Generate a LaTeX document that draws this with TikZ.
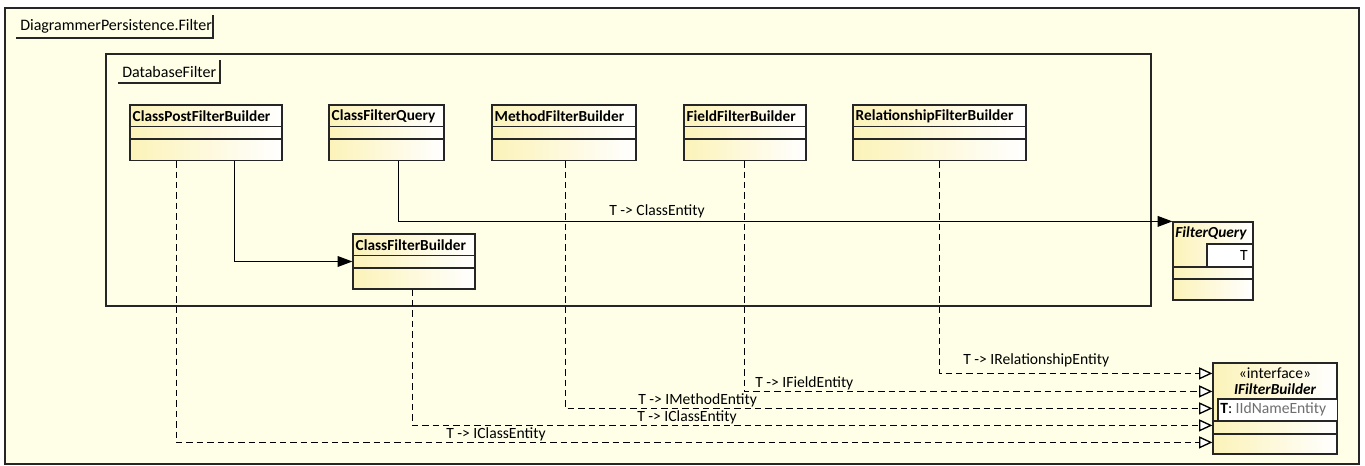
\documentclass[tikz,border=0pt]{standalone}
\usepackage{fontspec}
\setmainfont{Carlito}
\usetikzlibrary{fit,calc,arrows.meta}
\definecolor{bgc}{RGB}{255,255,232}
\definecolor{boxy}{RGB}{252,243,185}
\definecolor{greytxt}{RGB}{110,110,110}
\tikzset{
  classbox/.style={draw=black!85, line width=0.9pt, left color=boxy, right color=white, inner sep=0pt},
  titletxt/.style={font=\fontsize{11.5}{12}\selectfont\bfseries, anchor=west, inner sep=0pt},
  lbl/.style={font=\fontsize{11.7}{12}\selectfont, inner sep=0pt},
  pkgtxt/.style={font=\fontsize{12}{13}\selectfont, inner sep=0pt, anchor=west},
  sep/.style={draw=black!85, line width=0.9pt},
  assoc/.style={draw=black, line width=0.9pt, -{Triangle[length=11pt,width=8pt]}},
  real/.style={draw=black, line width=1pt, dash pattern=on 4.8pt off 3pt, -{Triangle[open,length=10pt,width=9pt,fill=white]}},
}
\begin{document}
\begin{tikzpicture}[x=0.75pt,y=-0.75pt]
\useasboundingbox (0,0) rectangle (1365,465);
\fill[white] (0,0) rectangle (1365,465);
% outer package frame
\node[draw=black!85, line width=0.9pt, fill=bgc, inner sep=0pt, fit={(5,8)(1359,464)}] (pkg) {};
\node[pkgtxt] (pkglbl) at (20,26.5) {DiagrammerPersistence.Filter};
\draw[sep] (16,38) -- (213,38) -- (213,15);
% inner package
\node[draw=black!85, line width=0.9pt, inner sep=0pt, fit={(106,54)(1151,306)}] (dbf) {};
\node[pkgtxt] (dbflbl) at (122,71.5) {DatabaseFilter};
\draw[sep] (118,83) -- (220,83) -- (220,60);
% classes
\newcommand\umlcls[6]{%
  \node[classbox, fit={(#2,#3)(#4,#5)}] (#1) {};
  \node[titletxt] (#1t) at ($(#1.north west)+(3,11.5)$) {#6};
  \draw[sep] ($(#1.north west)+(0,22)$) -- ($(#1.north east)+(0,22)$);
  \draw[sep] ($(#1.north west)+(0,34.5)$) -- ($(#1.north east)+(0,34.5)$);
}
\umlcls{cpfb}{130}{105}{282}{160.5}{ClassPostFilterBuilder}
\umlcls{cfq}{329}{105}{444}{160.5}{ClassFilterQuery}
\umlcls{mfb}{492}{105}{636}{160.5}{MethodFilterBuilder}
\umlcls{ffb}{684}{105}{806}{160.5}{FieldFilterBuilder}
\umlcls{rfb}{853}{105}{1026}{160.5}{RelationshipFilterBuilder}
\umlcls{cfb}{353}{234}{475}{289}{ClassFilterBuilder}
% FilterQuery
\node[classbox, fit={(1173,222)(1253,300)}] (fq) {};
\node[titletxt, font=\fontsize{11.5}{12}\selectfont\bfseries\itshape] (fqt) at (1175,233) {FilterQuery};
\path[fill=white] (1207,244) rectangle (1252,267);
\draw[sep] (1207,267) -- (1207,244) -- (1252,244);
\node[lbl, anchor=east] (fqT) at (1248,255.5) {T};
\draw[sep] (1173,267) -- (1253,267);
\draw[sep] (1173,279) -- (1253,279);
% IFilterBuilder
\node[classbox, fit={(1213,363)(1337,454)}] (ifb) {};
\node[lbl] (ifbst) at (1275,373.5) {«interface»};
\node[lbl, font=\fontsize{11.5}{12}\selectfont\bfseries\itshape] (ifbt) at (1275,389) {IFilterBuilder};
\path[fill=white] (1218,399) rectangle (1337,420);
\draw[sep] (1218,420) -- (1218,399) -- (1337,399);
\node[lbl, anchor=west] (ifbT) at (1220,409.5) {\textbf{T}: \textcolor{greytxt}{IIdNameEntity}};
\draw[sep] (1213,421) -- (1337,421);
\draw[sep] (1213,434) -- (1337,434);
% associations
\draw[assoc] ($(cpfb.south west)+(105,0)$) |- (cfb.west);
\draw[assoc] ($(cfq.south west)+(70,0)$) |- (fq.north west);
\node[lbl, anchor=west] (l0) at (609,211) {T -> ClassEntity};
% realizations
\draw[real] ($(rfb.south west)+(87,0)$) |- ($(ifb.north west)+(0,11)$);
\node[lbl, anchor=west] (l1) at (963,360) {T -> IRelationshipEntity};
\draw[real] ($(ffb.south west)+(61,0)$) |- ($(ifb.north west)+(0,29)$);
\node[lbl, anchor=west] (l2) at (755,383) {T -> IFieldEntity};
\draw[real] ($(mfb.south west)+(74,0)$) |- ($(ifb.north west)+(0,46)$);
\node[lbl, anchor=west] (l3) at (638,400) {T -> IMethodEntity};
\draw[real] ($(cfb.south west)+(60,0)$) |- ($(ifb.north west)+(0,63)$);
\node[lbl, anchor=west] (l4) at (637,417) {T -> IClassEntity};
\draw[real] ($(cpfb.south west)+(47,0)$) |- ($(ifb.north west)+(0,80)$);
\node[lbl, anchor=west] (l5) at (446,434) {T -> IClassEntity};
\end{tikzpicture}
\end{document}
